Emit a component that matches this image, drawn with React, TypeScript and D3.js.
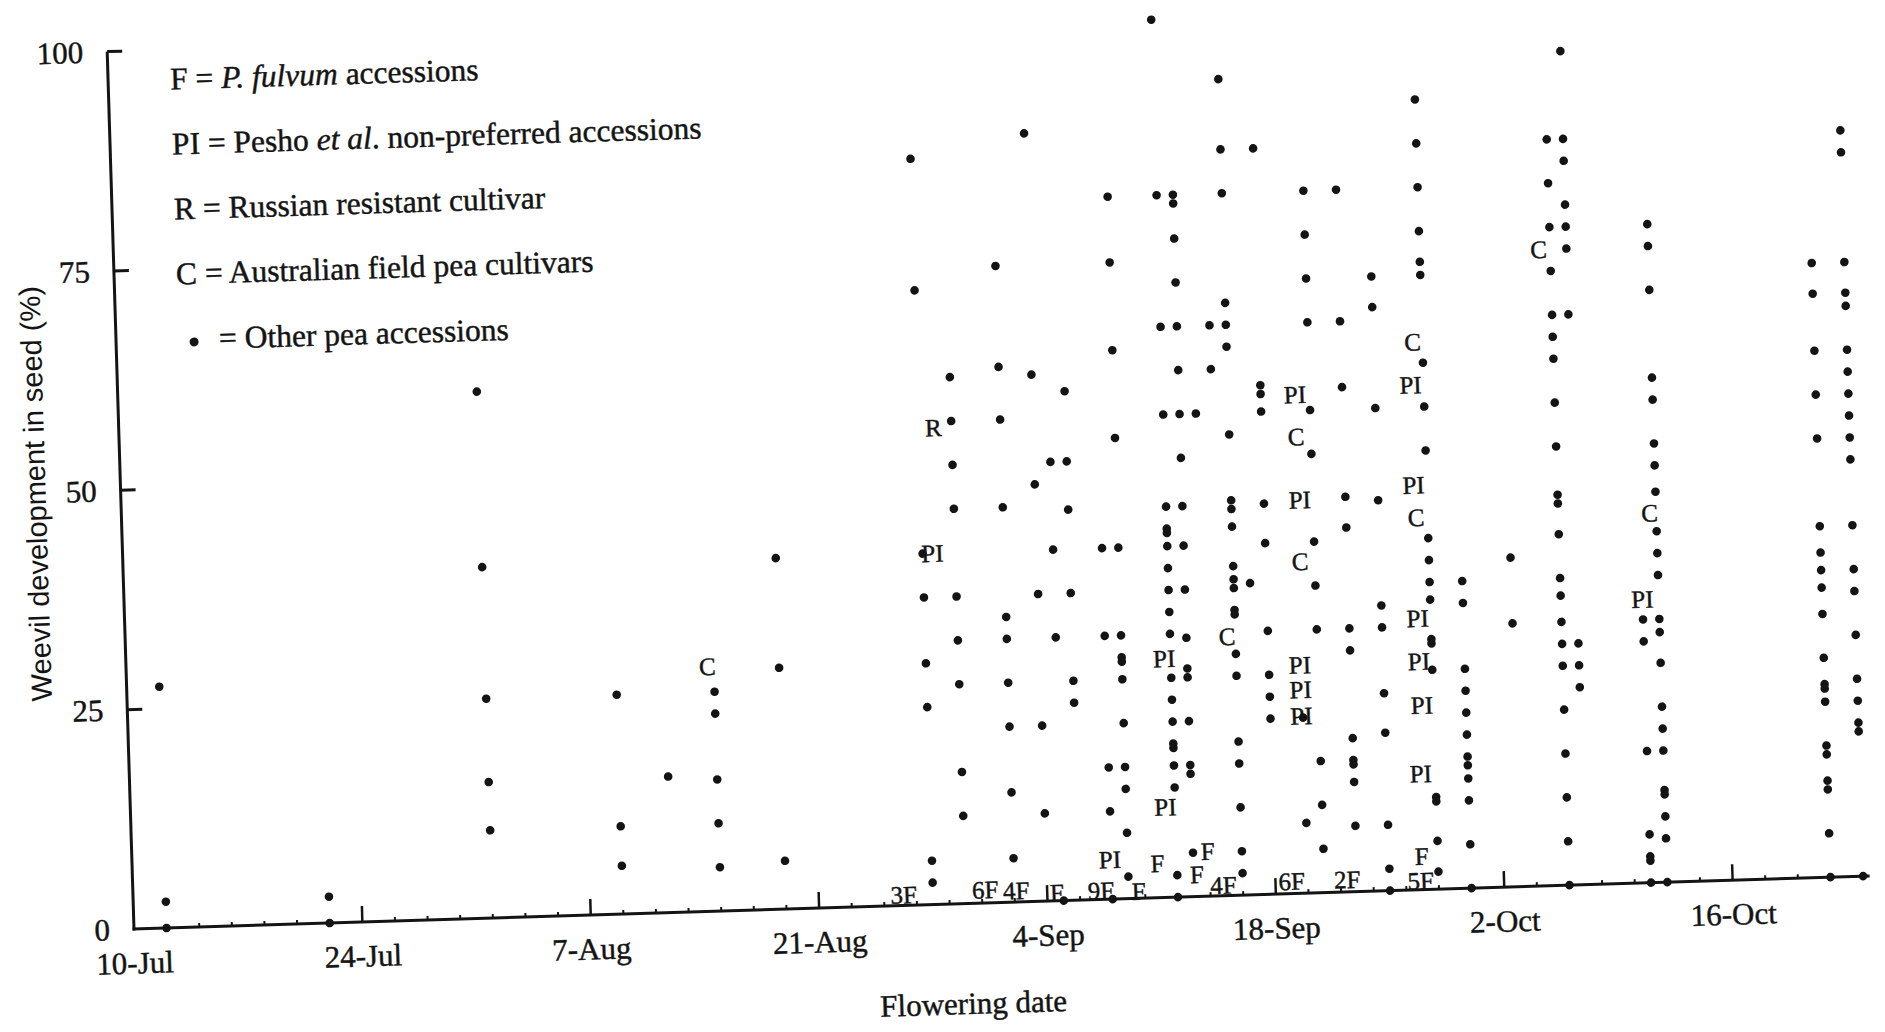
import React from "react";
import * as d3 from "d3";

// ---------------- data (flowering day = days after 10 July) ----------------
const xTickDays = [0, 14, 28, 42, 56, 70, 84, 98];
const xTickLabels = ["10-Jul", "24-Jul", "7-Aug", "21-Aug", "4-Sep", "18-Sep", "2-Oct", "16-Oct"];
const yTickValues = [0, 25, 50, 75, 100];

// Other pea accessions: one column of weevil-development values per flowering day
const accessionColumns = [
  { day: 2, values: [27.5, 3, 0] },
  { day: 12, values: [3, 0] },
  { day: 22, values: [60, 40, 25, 15.5, 10] },
  { day: 30, values: [25, 10, 5.5] },
  { day: 33, values: [15.5] },
  { day: 36, values: [25, 22.5, 15, 10, 5] },
  { day: 40, values: [40, 27.5, 5.5] },
  { day: 49, values: [85, 70, 40, 35, 27.5, 22.5, 5, 2.5] },
  { day: 51, values: [60, 55, 50, 45, 35, 30, 25, 15, 10] },
  { day: 54, values: [72.5, 61, 55, 45, 32.5, 30, 25, 20, 12.5, 5] },
  { day: 56, values: [87.5, 60, 47.5, 35, 20, 10] },
  { day: 57, values: [50, 40, 30, 0] },
  { day: 58, values: [58, 50, 44.5, 35, 25, 22.5] },
  { day: 60, values: [40, 30, 15, 10, 0] },
  { day: 61, values: [80, 72.5, 62.5, 52.5, 40, 30, 27.5, 27, 25, 20, 15, 12.5, 7.5, 2.5] },
  { day: 64, values: [100, 80, 65, 55, 44.5, 42, 41.5, 40, 37.5, 35, 32.5, 30, 25, 22.5, 20, 17.5, 17, 15, 12.5, 2.5, 0] },
  { day: 65, values: [80, 79, 75, 70, 65, 60, 55, 50, 44.5, 40, 35, 29.5, 26, 25, 20, 15, 14, 5] },
  { day: 66, values: [55] },
  { day: 67, values: [65, 60] },
  { day: 68, values: [93, 85, 80, 67.5, 65, 62.5, 52.5, 45, 44, 42, 37.5, 36, 35, 32.5, 32, 27.5, 25, 17.5, 15, 10, 5, 2.5] },
  { day: 69, values: [35.5] },
  { day: 70, values: [85, 58, 57, 55, 44.5, 40, 30, 25, 22.5, 20] },
  { day: 72, values: [20, 8] },
  { day: 73, values: [80, 75, 70, 65, 55, 50, 40, 35, 30, 15, 10, 5] },
  { day: 75, values: [80, 65, 57.5, 45, 41.5, 30, 27.5, 17.5, 15, 14.5, 12.5, 7.5] },
  { day: 77, values: [70, 66.5, 55, 44.5, 32.5, 30, 22.5, 18, 7.5, 2.5, 0] },
  { day: 80, values: [90, 85, 80, 75, 71.5, 70, 60, 55, 50, 40, 37.5, 35, 33, 28.5, 28, 25, 10.5, 10, 5.5, 2] },
  { day: 82, values: [35, 32.5, 25, 22.5, 20, 17.5, 15, 14, 12.5, 10, 5, 0] },
  { day: 85, values: [37.5, 30] },
  { day: 88, values: [85, 80, 75, 70, 65, 62.5, 60, 55, 50, 44.5, 43.5, 40, 35, 33, 30, 27.5, 25, 20, 15, 10, 5, 0] },
  { day: 89, values: [95, 85, 82.5, 77.5, 75, 72.5, 65, 27.5, 25, 22.5] },
  { day: 93, values: [30, 27.5, 15, 5.5, 3, 2.5, 0] },
  { day: 94, values: [75, 72.5, 67.5, 57.5, 55, 50, 47.5, 44.5, 40, 37.5, 35, 30, 28.5, 25, 20, 17.5, 15, 10.5, 10, 7.5, 5, 0] },
  { day: 104, values: [70, 66.5, 60, 55, 50, 40, 37, 35, 33, 30, 25, 22, 21.5, 20, 15, 14, 11, 10, 5, 0] },
  { day: 106, values: [85, 82.5, 70, 66.5, 65, 60, 57.5, 55, 52.5, 50, 47.5, 40, 35, 32.5, 27.5, 22.5, 20, 17.5, 16.5, 0] },
];

// Pesho et al. non-preferred accessions (PI)
const peshoMarks = [
  { day: 49.6, value: 40 }, { day: 59.9, value: 4.5 }, { day: 63.6, value: 27.2 }, { day: 63.4, value: 10.3 },
  { day: 72.1, value: 56.8 }, { day: 72.2, value: 44.8 }, { day: 71.9, value: 26 }, { day: 71.9, value: 23.2 },
  { day: 71.9, value: 20.2 }, { day: 79.2, value: 57.5 }, { day: 79.2, value: 46.1 }, { day: 79.2, value: 30.9 },
  { day: 79.2, value: 26 }, { day: 79.3, value: 21 }, { day: 79.1, value: 13.2 }, { day: 93.0, value: 32.3 },
];

// Australian field pea cultivars (C)
const cultivarMarks = [
  { day: 35.6, value: 27.9 }, { day: 67.5, value: 29.5 }, { day: 72.1, value: 52 }, { day: 72.1, value: 37.8 },
  { day: 79.4, value: 62.4 }, { day: 79.3, value: 42.4 }, { day: 87.3, value: 72.5 }, { day: 93.6, value: 42.1 },
];

// Russian resistant cultivar (R)
const russianMarks = [{ day: 49.9, value: 54.3 }];

// P. fulvum accessions (F, with counts)
const fulvumMarks = [
  { text: "3F", day: 47.2, value: 1.2 }, { text: "6F", day: 52.2, value: 1.5 }, { text: "4F", day: 54.1, value: 1.3 },
  { text: "F", day: 56.6, value: 0.9 }, { text: "9F", day: 59.3, value: 1.0 }, { text: "F", day: 61.6, value: 0.8 },
  { text: "F", day: 62.8, value: 3.9 }, { text: "F", day: 65.2, value: 2.5 }, { text: "F", day: 65.9, value: 5.1 },
  { text: "4F", day: 66.8, value: 1.2 }, { text: "6F", day: 71.0, value: 1.4 }, { text: "2F", day: 74.4, value: 1.4 },
  { text: "5F", day: 78.9, value: 1.0 }, { text: "F", day: 79.0, value: 3.8 },
];

const legendLines = [
  [{ t: "F = " }, { t: "P. fulvum", i: true }, { t: " accessions" }],
  [{ t: "PI = Pesho " }, { t: "et al", i: true }, { t: ". non-preferred accessions" }],
  [{ t: "R = Russian resistant cultivar" }],
  [{ t: "C = Australian field pea cultivars" }],
];
const legendDotText = "= Other pea accessions";
const xTitle = "Flowering date";
const yTitle = "Weevil development in seed (%)";

// ---------------- layout ----------------
const W = 1885;
const H = 1032;
const OX = 134;
const OY = 929;
const TILT = -1.75;
const DAY_MAX = 106.4;
const PX_PER_DAY = 16.32;
const Y_LEN = 877.8;
const INK = "#141414";
const SERIF = '"Liberation Serif", "Times New Roman", Times, serif';
const SANS = '"Liberation Sans", Arial, sans-serif';
const TEXT_WEIGHT = { stroke: INK, strokeWidth: 0.45 };

export default function App() {
  const x = d3.scaleLinear().domain([0, DAY_MAX]).range([OX, OX + DAY_MAX * PX_PER_DAY]);
  const y = d3.scaleLinear().domain([0, 100]).range([OY, OY - Y_LEN]);
  const minorTicks = d3.range(2, DAY_MAX, 2).filter((d) => d % 14 !== 0);

  const dots = accessionColumns.flatMap((c) => c.values.map((v) => ({ day: c.day, value: v })));

  const markText = (items, text, key) =>
    items.map((m, i) => (
      <text
        key={key + i}
        x={x(m.day)}
        y={y(m.value)}
        textAnchor="middle"
        dominantBaseline="central"
        fontFamily={SERIF}
        fontSize={25}
        fill={INK}
        {...TEXT_WEIGHT}
      >
        {m.text || text}
      </text>
    ));

  return (
    <div style={{ position: "absolute", left: 0, top: 0, width: W, height: H, background: "#fff" }}>
      <svg width={W} height={H} style={{ display: "block" }}>
        <rect width={W} height={H} fill="#fff" />
        <g transform={`rotate(${TILT} ${OX} ${OY})`}>
          {/* axes */}
          <line x1={x(0)} x2={x(0)} y1={y(0) + 1.5} y2={y(100)} stroke={INK} strokeWidth={3} />
          <line x1={x(0) - 1.5} x2={x(DAY_MAX)} y1={y(0)} y2={y(0)} stroke={INK} strokeWidth={3} />
          {yTickValues.filter((v) => v > 0).map((v) => (
            <line key={"yt" + v} x1={x(0)} x2={x(0) + 15} y1={y(v)} y2={y(v)} stroke={INK} strokeWidth={3} />
          ))}
          {yTickValues.map((v) => (
            <text key={"yl" + v} x={x(0) - 24} y={y(v)} textAnchor="end" dominantBaseline="central"
              fontFamily={SERIF} fontSize={31} fill={INK} {...TEXT_WEIGHT}>{v}</text>
          ))}
          {xTickDays.filter((d) => d > 0).map((d) => (
            <line key={"xt" + d} x1={x(d)} x2={x(d)} y1={y(0)} y2={y(0) - 16} stroke={INK} strokeWidth={2.5} />
          ))}
          {minorTicks.map((d) => (
            <line key={"mt" + d} x1={x(d)} x2={x(d)} y1={y(0)} y2={y(0) - 4} stroke={INK} strokeWidth={2} />
          ))}
          {xTickDays.map((d, i) => (
            <text key={"xl" + d} x={x(d)} y={y(0) + 34} textAnchor="middle" dominantBaseline="central"
              fontFamily={SERIF} fontSize={31} fill={INK} {...TEXT_WEIGHT}>{xTickLabels[i]}</text>
          ))}

          {/* titles */}
          <text x={x(0) + 837} y={y(0) + 100} textAnchor="middle" dominantBaseline="central"
            fontFamily={SERIF} fontSize={31} fill={INK} {...TEXT_WEIGHT}>{xTitle}</text>
          <text transform={`translate(${x(0) - 85} ${y(0) - 438}) rotate(-90)`} textAnchor="middle"
            dominantBaseline="central" fontFamily={SANS} fontSize={29} fill={INK}>{yTitle}</text>

          {/* legend */}
          {legendLines.map((line, i) => (
            <text key={"lg" + i} x={x(0) + 62} y={y(0) - 838 + i * 65} fontFamily={SERIF} fontSize={31.5}
              fill={INK} {...TEXT_WEIGHT}>
              {line.map((s, j) => (
                <tspan key={j} fontStyle={s.i ? "italic" : "normal"}>{s.t}</tspan>
              ))}
            </text>
          ))}
          <circle cx={x(0) + 78} cy={y(0) - 585} r={4.5} fill={INK} />
          <text x={x(0) + 103} y={y(0) - 577.5} fontFamily={SERIF} fontSize={31.5} fill={INK}
            {...TEXT_WEIGHT}>{legendDotText}</text>

          {/* other accessions */}
          {dots.map((p, i) => (
            <circle key={"d" + i} cx={x(p.day)} cy={y(p.value)} r={4.3} fill={INK} />
          ))}

          {/* lettered accessions */}
          {markText(peshoMarks, "PI", "pi")}
          {markText(cultivarMarks, "C", "c")}
          {markText(russianMarks, "R", "r")}
          {markText(fulvumMarks, "F", "f")}
        </g>
      </svg>
    </div>
  );
}
